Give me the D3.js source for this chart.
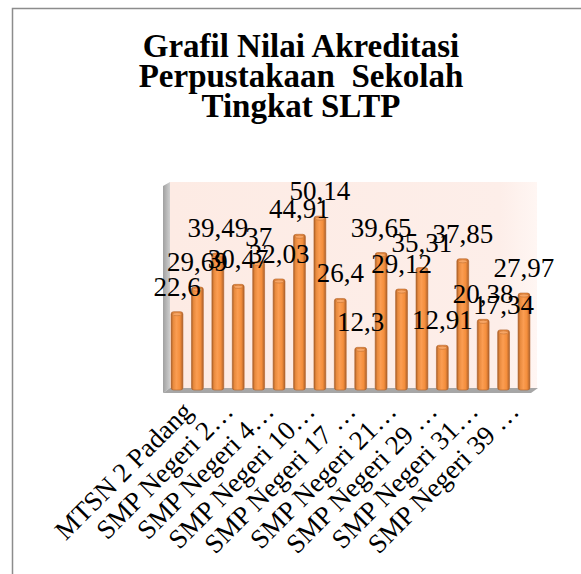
<!DOCTYPE html>
<html>
<head>
<meta charset="utf-8">
<script src="https://cdn.jsdelivr.net/npm/d3@7"></script>
<style>
  body { margin: 0; background: #fff; }
  svg { display: block; }
</style>
</head>
<body>
<div id="chart"></div>
<script>
var categories = [
  'MTSN 2 Padang', 'SMP Negeri 1 Padang', 'SMP Negeri 2 Padang', 'SMP Negeri 3 Padang',
  'SMP Negeri 4 Padang', 'SMP Negeri 7 Padang', 'SMP Negeri 10 Padang', 'SMP Negeri 12 Padang',
  'SMP Negeri 17 Padang', 'SMP Negeri 18 Padang', 'SMP Negeri 21 Padang', 'SMP Negeri 25 Padang',
  'SMP Negeri 29 Padang', 'SMP Negeri 30 Padang', 'SMP Negeri 31 Padang', 'SMP Negeri 35 Padang',
  'SMP Negeri 39 Padang', 'SMP Negeri 40 Padang'
];
var values = [22.6, 29.69, 39.49, 30.47, 37, 32.03, 44.91, 50.14, 26.4, 12.3,
  39.65, 29.12, 35.31, 12.91, 37.85, 20.38, 17.34, 27.97];
// only every other category gets a label, as in the original
var tickLabels = ['MTSN 2 Padang', 'SMP Negeri 2…', 'SMP Negeri 4…', 'SMP Negeri 10…',
  'SMP Negeri 17 …', 'SMP Negeri 21…', 'SMP Negeri 29 …', 'SMP Negeri 31…', 'SMP Negeri 39 …'];
var titleLines = ['Grafil Nilai Akreditasi', 'Perpustakaan  Sekolah', 'Tingkat SLTP'];

var chart_width = 581;
var chart_height = 574;
var depth = 7; // fake 3d depth of the walls
var plot = { left: 170, right: 537, top: 182, bottom: 388 };
var font = '"Liberation Serif", serif';

var svg = d3.select('#chart')
  .append('svg')
  .attr('width', chart_width)
  .attr('height', chart_height);

// frame (only top and left edges visible in the picture)
svg.append('path')
  .attr('d', 'M12.5,' + chart_height + ' V8.5 H' + chart_width)
  .attr('fill', 'none')
  .attr('stroke', '#8c8c8c')
  .attr('stroke-width', 1.5);

// title
svg.append('text')
  .attr('x', 301)
  .attr('y', 57)
  .attr('text-anchor', 'middle')
  .style('font-family', font)
  .style('font-weight', 'bold')
  .style('font-size', '33px')
  .selectAll('tspan')
  .data(titleLines)
  .enter()
  .append('tspan')
  .attr('x', 301)
  .attr('dy', (d, i) => i === 0 ? 0 : 30)
  .style('white-space', 'pre')
  .text(d => d);

// scales
var xScale = d3.scaleBand()
  .domain(categories)
  .range([plot.left - 3, plot.right - 3])
  .paddingInner(0.42)
  .paddingOuter(0.2);

var yScale = d3.scaleLinear()
  .domain([0, 60])
  .range([plot.bottom + 2, plot.top]);

// gradients
var defs = svg.append('defs');
var barGrad = defs.append('linearGradient').attr('id', 'barGrad');
[[0, '#a95f27'], [0.18, '#e88a3e'], [0.45, '#fb9d52'], [0.75, '#f48e3c'], [1, '#ad6029']]
  .forEach(s => barGrad.append('stop').attr('offset', s[0]).attr('stop-color', s[1]));
var wallGrad = defs.append('linearGradient').attr('id', 'wallGrad');
[[0, '#fdebe4'], [0.9, '#fdeee9'], [1, '#fff6f3']]
  .forEach(s => wallGrad.append('stop').attr('offset', s[0]).attr('stop-color', s[1]));
var sideGrad = defs.append('linearGradient').attr('id', 'sideGrad');
[[0, '#a0a0a0'], [1, '#cfcfcf']]
  .forEach(s => sideGrad.append('stop').attr('offset', s[0]).attr('stop-color', s[1]));

// back wall, side wall, floor
svg.append('rect')
  .attr('x', plot.left)
  .attr('y', plot.top)
  .attr('width', plot.right - plot.left)
  .attr('height', plot.bottom - plot.top)
  .attr('fill', 'url(#wallGrad)');

svg.append('polygon')
  .attr('points', [
    [plot.left - depth, plot.top + 4], [plot.left, plot.top],
    [plot.left, plot.bottom], [plot.left - depth, plot.bottom + 5]
  ].join(' '))
  .attr('fill', 'url(#sideGrad)');

svg.append('polygon')
  .attr('points', [
    [plot.left, plot.bottom], [plot.right + 1, plot.bottom],
    [plot.right + 1 - depth, plot.bottom + 5], [plot.left - depth, plot.bottom + 5]
  ].join(' '))
  .attr('fill', '#a6a6a6');

// bars
var bars = svg.selectAll('g.bar')
  .data(values)
  .enter()
  .append('g')
  .attr('class', 'bar');

bars.append('rect')
  .attr('x', (d, i) => xScale(categories[i]))
  .attr('y', d => yScale(d))
  .attr('width', xScale.bandwidth())
  .attr('height', d => yScale(0) - yScale(d))
  .attr('rx', 2.5)
  .attr('fill', 'url(#barGrad)')
  .attr('stroke', '#b0622a')
  .attr('stroke-width', 0.6);

bars.append('ellipse')
  .attr('cx', (d, i) => xScale(categories[i]) + xScale.bandwidth() / 2)
  .attr('cy', d => yScale(d) + 2.5)
  .attr('rx', xScale.bandwidth() / 2 - 1.5)
  .attr('ry', 1.6)
  .attr('fill', '#f7a565')
  .attr('stroke', '#c4702f')
  .attr('stroke-width', 0.6);

// value labels
svg.selectAll('text.value')
  .data(values)
  .enter()
  .append('text')
  .attr('class', 'value')
  .attr('x', (d, i) => xScale(categories[i]) + xScale.bandwidth() / 2)
  .attr('y', d => yScale(d) - 16)
  .attr('text-anchor', 'middle')
  .style('font-family', font)
  .style('font-size', '27px')
  .attr('fill', '#000')
  .text(d => String(d).replace('.', ','));

// category axis
var shown = categories.filter((c, i) => i % 2 === 0);
var xAxis = d3.axisBottom(xScale)
  .tickValues(shown)
  .tickSize(0)
  .tickFormat(c => tickLabels[shown.indexOf(c)]);

var axisG = svg.append('g')
  .attr('transform', 'translate(0,' + (plot.bottom + 25) + ')')
  .call(xAxis);

axisG.select('.domain').remove();
axisG.selectAll('text')
  .style('font-family', font)
  .style('font-size', '27px')
  .attr('fill', '#000')
  .attr('text-anchor', 'end')
  .attr('x', 0)
  .attr('y', 0)
  .attr('dy', 0)
  .attr('transform', 'translate(17,0) rotate(-45)');
</script>
</body>
</html>
